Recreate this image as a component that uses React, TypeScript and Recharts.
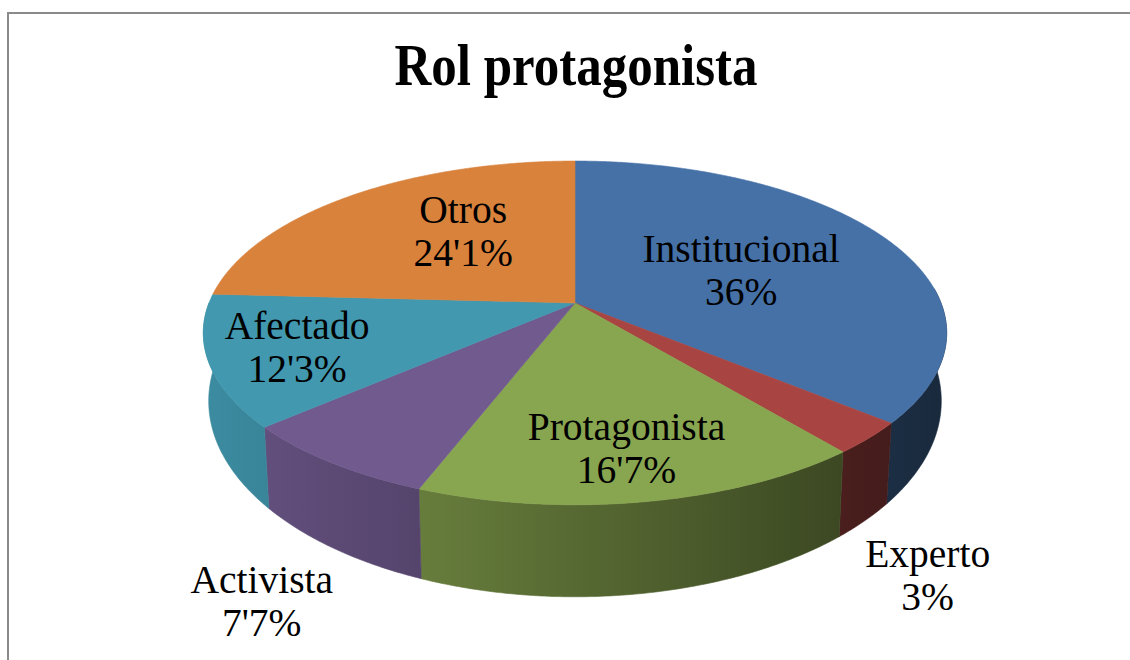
import React from 'react';
import { PieChart, Pie, Cell } from 'recharts';

// ---- data ----
const categories = ['Institucional', 'Experto', 'Protagonista', 'Activista', 'Afectado', 'Otros'];
const values = [36, 3, 16.7, 7.7, 12.3, 24.1];
const valueLabels = ['36%', '3%', "16'7%", "7'7%", "12'3%", "24'1%"];
const colors = ['#4571a7', '#a84542', '#88a54f', '#705a8e', '#4198af', '#d8823c'];

// label placement (relative radius on the projected rim, extra vertical drop)
const LABEL_RADIUS = [0.538, 1.2, 0.729, 1.285, 0.758, 0.5];
const LABEL_DROP = [2, 110, 0, 93, 0, -18];

const data = categories.map((name, i) => ({ name, value: values[i] }));

// ---- 3D projection parameters (relative to outer radius) ----
const TILT = 166.8 / 366.3;
const PERSP = 0.174;
const BOTTOM_X = 361 / 366.3;
const BOTTOM_Y = 190 / 366.3;
const DEPTH = 64 / 366.3;
const FONT = '"Liberation Serif", "Times New Roman", serif';

const rad = (d: number) => (d * Math.PI) / 180;

function proj(cx: number, cy: number, R: number, theta: number, s = 1, bottom = false) {
  const u = Math.sin(rad(theta));
  const v = Math.cos(rad(theta));
  const d = 1 + PERSP * v;
  if (bottom) {
    return { x: cx + (R * BOTTOM_X * u) / d, y: cy + R * DEPTH - (R * BOTTOM_Y * v) / d };
  }
  return { x: cx + (R * s * u) / d, y: cy - (R * TILT * s * v) / d };
}

function shade(hex: string, f: number) {
  const n = parseInt(hex.slice(1), 16);
  const r = Math.round(((n >> 16) & 255) * f);
  const g = Math.round(((n >> 8) & 255) * f);
  const b = Math.round((n & 255) * f);
  return `rgb(${r},${g},${b})`;
}

function arcPoints(cx: number, cy: number, R: number, a: number, b: number, bottom: boolean) {
  const pts: string[] = [];
  const n = Math.max(2, Math.ceil(Math.abs(b - a) / 0.5));
  for (let i = 0; i <= n; i++) {
    const t = a + ((b - a) * i) / n;
    const p = proj(cx, cy, R, t, 1, bottom);
    pts.push(`${p.x.toFixed(2)},${p.y.toFixed(2)}`);
  }
  return pts;
}

const renderSlice = (props: any) => {
  const { cx, cy, outerRadius, startAngle, endAngle, fill } = props;
  const t1 = 90 - startAngle;
  const t2 = 90 - endAngle;
  const lo = Math.min(t1, t2);
  const hi = Math.max(t1, t2);
  const gid = `wall-${String(fill).replace(/[^a-zA-Z0-9]/g, '')}`;
  const ws = Math.max(lo, 85);
  const we = Math.min(hi, 270);
  let wall: React.ReactNode = null;
  if (we > ws) {
    const top = arcPoints(cx, cy, outerRadius, ws, we, false);
    const bot = arcPoints(cx, cy, outerRadius, we, ws, true);
    wall = <path d={`M${top.join(' L')} L${bot.join(' L')} Z`} fill={`url(#${gid})`} stroke={`url(#${gid})`} strokeWidth={0.6} />;
  }
  const face = arcPoints(cx, cy, outerRadius, lo, hi, false);
  return (
    <g>
      <defs>
        <linearGradient id={gid} gradientUnits="userSpaceOnUse" x1={cx - outerRadius * 1.02} y1={0} x2={cx + outerRadius * 1.02} y2={0}>
          <stop offset="0" stopColor={shade(fill, 0.92)} />
          <stop offset="1" stopColor={shade(fill, 0.36)} />
        </linearGradient>
      </defs>
      {wall}
      <path d={`M${cx},${cy} L${face.join(' L')} Z`} fill={fill} stroke={fill} strokeWidth={0.6} />
    </g>
  );
};

const renderLabel = (props: any) => {
  const { cx, cy, midAngle, outerRadius } = props;
  const name = props.name ?? props.payload?.name;
  const i = categories.indexOf(name);
  if (i < 0) return null;
  const p = proj(cx, cy, outerRadius, 90 - midAngle, LABEL_RADIUS[i]);
  const y = p.y + LABEL_DROP[i];
  return (
    <text x={p.x} y={y} textAnchor="middle" fontFamily={FONT} fontSize={39.5} fill="#000">
      <tspan x={p.x} y={y - 8}>{categories[i]}</tspan>
      <tspan x={p.x} y={y + 35}>{valueLabels[i]}</tspan>
    </text>
  );
};

export default function App() {
  return (
    <div style={{ position: 'absolute', left: 0, top: 0, width: 1130, height: 660, background: '#fff', overflow: 'hidden' }}>
      <div
        style={{
          position: 'absolute',
          left: 7,
          top: 12,
          width: 1140,
          height: 700,
          borderTop: '2px solid #8a8a8a',
          borderLeft: '2px solid #8a8a8a',
        }}
      />
      <div style={{ position: 'absolute', left: 0, top: 0 }}>
        <PieChart width={1130} height={660} margin={{ top: 0, right: 0, bottom: 0, left: 0 }}>
          <Pie
            data={data}
            dataKey="value"
            nameKey="name"
            cx={575}
            cy={303}
            outerRadius={366}
            startAngle={90}
            endAngle={-270}
            stroke="none"
            isAnimationActive={false}
            shape={renderSlice}
            inactiveShape={renderSlice}
            activeShape={renderSlice}
            label={renderLabel}
            labelLine={false}
          >
            {data.map((d, i) => (
              <Cell key={d.name} fill={colors[i]} />
            ))}
          </Pie>
        </PieChart>
      </div>
      <svg width={1130} height={130} style={{ position: 'absolute', left: 0, top: 0, pointerEvents: 'none' }}>
        <text transform="translate(576,85) scale(1,1.15)" textAnchor="middle" fontFamily={FONT} fontWeight="bold" fontSize={51} fill="#000">
          Rol protagonista
        </text>
      </svg>
    </div>
  );
}
